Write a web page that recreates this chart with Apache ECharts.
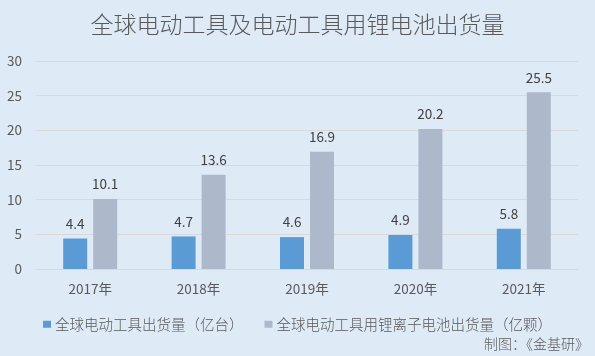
<!DOCTYPE html>
<html><head><meta charset="utf-8">
<script src="https://cdn.jsdelivr.net/npm/echarts@6/dist/echarts.min.js"></script>
<style>html,body{margin:0;padding:0;background:#deeaf6;}#c{width:595px;height:356px;}</style>
</head><body><div id="c"></div>
<script>
const categories = ['2017年','2018年','2019年','2020年','2021年'];
const toolShipments = [4.4, 4.7, 4.6, 4.9, 5.8];
const batteryShipments = [10.1, 13.6, 16.9, 20.2, 25.5];
const seriesNames = ['全球电动工具出货量（亿台）','全球电动工具用锂离子电池出货量（亿颗）'];
const yTicks = [0, 5, 10, 15, 20, 25, 30];
const font = '"Noto Sans CJK SC", "Microsoft YaHei", sans-serif';
const chart = echarts.init(document.getElementById('c'));
chart.setOption({
  backgroundColor: '#deeaf6',
  animation: false,
  title: {
    text: '全球电动工具及电动工具用锂电池出货量',
    left: 'center', top: 8,
    textStyle: {fontFamily: font, fontSize: 23, fontWeight: 300, color: '#595959'}
  },
  graphic: [{
    type: 'text', left: 484, top: 337,
    style: {text: '制图：《金基研》', fontFamily: font, fontSize: 14, fontWeight: 300, fill: '#595959'}
  }],
  legend: {
    left: 38, top: 312, itemWidth: 8, itemHeight: 7, itemGap: 21,
    icon: 'rect',
    textStyle: {fontFamily: font, fontSize: 14.5, fontWeight: 300, color: '#595959', padding: [0,0,0,-1]},
    data: seriesNames
  },
  grid: {left: 36, right: 17, top: 61, bottom: 87},
  xAxis: {
    type: 'category', data: categories,
    axisLine: {lineStyle: {color: '#d9d9d9'}},
    axisTick: {show: false},
    axisLabel: {fontFamily: font, fontSize: 13.5, color: '#595959', margin: 13}
  },
  yAxis: {
    type: 'value', min: yTicks[0], max: yTicks[yTicks.length-1], interval: 5,
    axisLine: {show: false}, axisTick: {show: false},
    splitLine: {lineStyle: {color: '#d9d9d9'}},
    axisLabel: {fontFamily: font, fontSize: 13.5, color: '#595959', margin: 14}
  },
  series: [
    {name: seriesNames[0], type: 'bar', data: toolShipments, barWidth: 24, barGap: '25%',
     itemStyle: {color: '#5b9bd5'},
     label: {show: true, position: 'top', distance: 8, fontFamily: font, fontSize: 13.5, color: '#404040'}},
    {name: seriesNames[1], type: 'bar', data: batteryShipments, barWidth: 24,
     itemStyle: {color: '#adb9ca'},
     label: {show: true, position: 'top', distance: 8, fontFamily: font, fontSize: 13.5, color: '#404040'}}
  ]
});
</script></body></html>
